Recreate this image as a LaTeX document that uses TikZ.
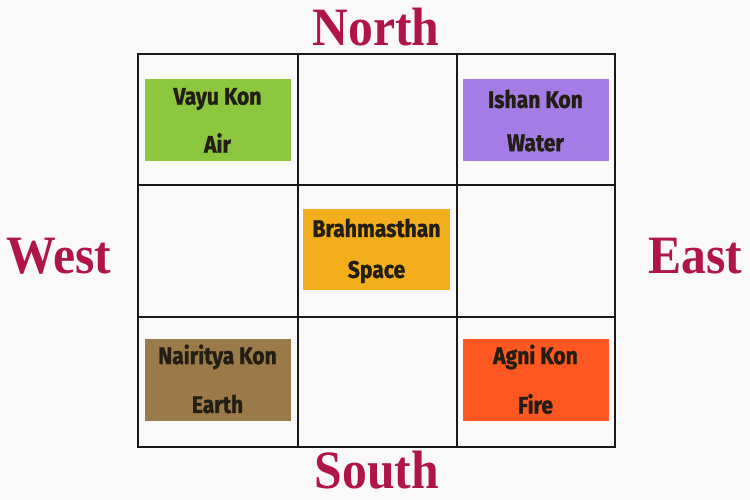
\documentclass[tikz,border=0pt]{standalone}
\usepackage{fontspec}
\setmainfont{Fira Sans}
\newfontfamily\boxfont[FakeStretch=0.88,FakeBold=1.2]{Fira Sans Bold}
\newfontfamily\dirfont[FakeStretch=0.92]{Liberation Serif Bold}
\definecolor{bgc}{HTML}{F9F9F9}
\definecolor{dirc}{HTML}{B0154A}
\definecolor{txtc}{HTML}{221E14}
\definecolor{cgreen}{HTML}{8DC63F}
\definecolor{cpurple}{HTML}{A57CE6}
\definecolor{cyellow}{HTML}{F2AE1C}
\definecolor{cbrown}{HTML}{9A7A48}
\definecolor{cred}{HTML}{FF5722}
\begin{document}
\begin{tikzpicture}[x=1pt,y=-1pt,
  zone/.style={rectangle,minimum width=146pt,minimum height=82pt,inner sep=0pt},
  ztext/.style={font=\boxfont\fontsize{24}{24}\selectfont,text=txtc},
  dir/.style={font=\dirfont\fontsize{54}{54}\selectfont,text=dirc},
  gridline/.style={line width=2pt,draw=black!90}]
\fill[bgc] (0,0) rectangle (750,500);
\useasboundingbox (0,0) rectangle (750,500);
% grid
\draw[gridline] (138,54) rectangle (615,447);
\draw[gridline] (298,54) -- (298,447);
\draw[gridline] (457,54) -- (457,447);
\draw[gridline] (138,185) -- (615,185);
\draw[gridline] (138,317) -- (615,317);
% zones
\node[zone,fill=cgreen] (vayu) at (217.5,120) {};
\node[zone,fill=cpurple] (ishan) at (535.5,120) {};
\node[zone,fill=cyellow,minimum width=147pt,minimum height=81pt] (brahma) at (376.5,249.5) {};
\node[zone,fill=cbrown] (nair) at (217.5,379.5) {};
\node[zone,fill=cred] (agni) at (535.5,379.5) {};
% texts
\node[ztext] (vayu1) at (217.5,99) {Vayu Kon};
\node[ztext] (vayu2) at (217.5,143) {Air};
\node[ztext] (ishan1) at (535.5,99) {Ishan Kon};
\node[ztext] (ishan2) at (535.5,143) {Water};
\node[ztext] (brahma1) at (376.5,228) {Brahmasthan};
\node[ztext] (brahma2) at (376.5,272) {Space};
\node[ztext] (nair1) at (217.5,357) {Nairitya Kon};
\node[ztext] (nair2) at (217.5,404) {Earth};
\node[ztext] (agni1) at (535.5,357) {Agni Kon};
\node[ztext] (agni2) at (535.5,404) {Fire};
% directions
\node[dir] (north) at (376,27) {North};
\node[dir] (south) at (377,470) {South};
\node[dir] (west) at (59,256) {West};
\node[dir] (east) at (695,256) {East};
\end{tikzpicture}
\end{document}
